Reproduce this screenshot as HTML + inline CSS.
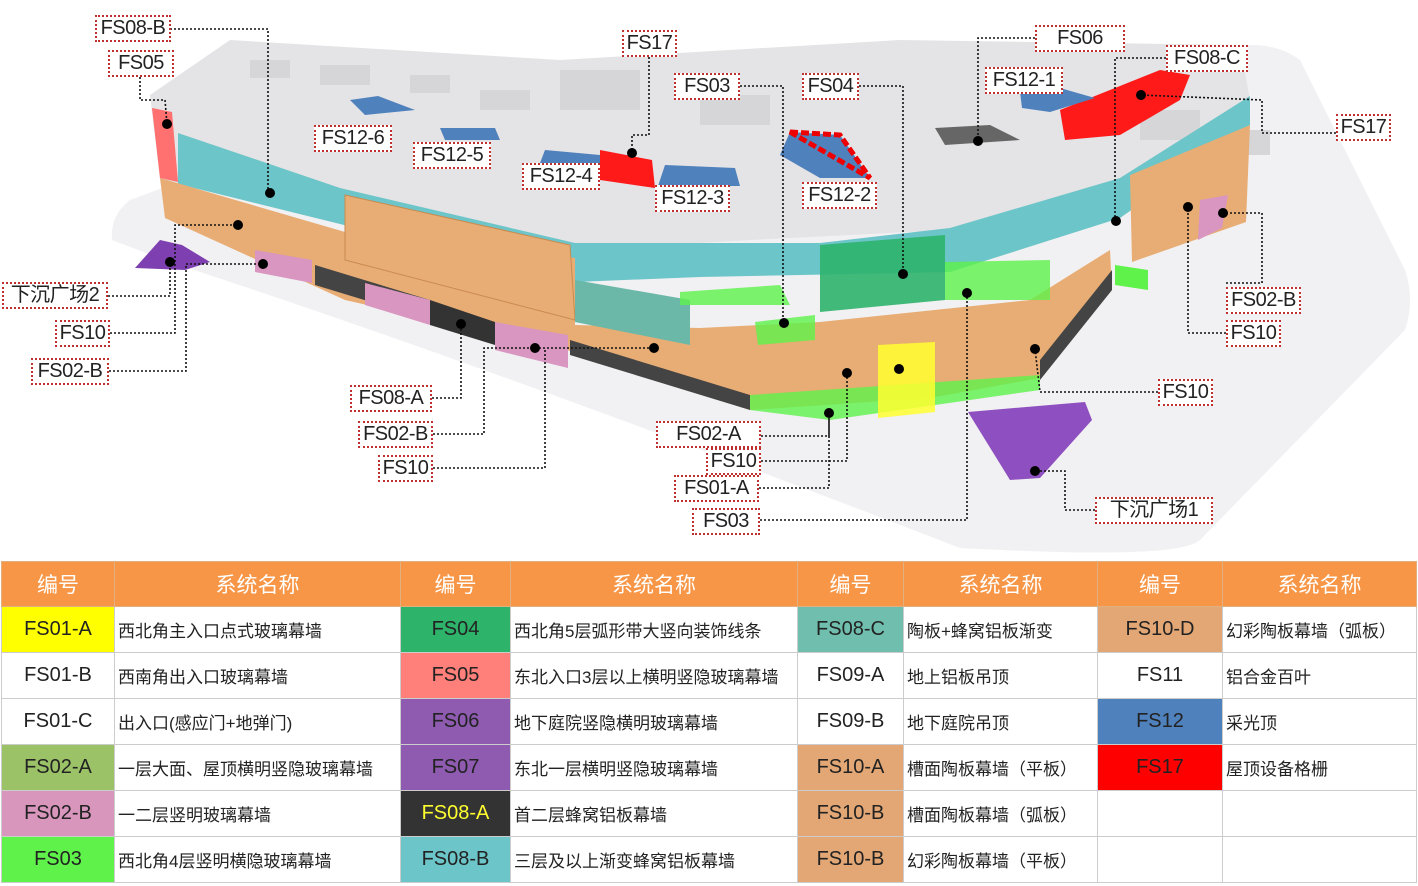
<!DOCTYPE html>
<html><head><meta charset="utf-8"><style>
body{margin:0;width:1418px;height:886px;background:#fff;overflow:hidden;font-family:"Liberation Sans","Noto Sans CJK SC",sans-serif;}
svg{position:absolute;left:0;top:0}
.lb{position:absolute;border:2px dotted #c0302e;background:#fff;color:#222;font-size:20px;line-height:23px;text-align:center;box-sizing:border-box;font-family:"Liberation Sans Narrow","Liberation Sans","Noto Sans CJK SC",sans-serif;letter-spacing:-0.5px}
table{position:absolute;left:1px;top:561px;border-collapse:collapse;width:1415px;table-layout:fixed}
td,th{border:1px solid #ccc;height:45px;padding:0;font-size:17px;color:#222;vertical-align:middle}
th{background:#f79646;color:#fff;font-weight:normal;font-size:21px;height:44px;border-color:#e0b080}
td.c{text-align:center;font-size:20px}
td.n{padding-left:3px;font-size:17px}
</style></head><body>
<svg width="1418" height="560" viewBox="0 0 1418 560">
<path d="M130,200 Q110,215 112,240 L170,262 Q500,370 960,548 Q1180,560 1200,540 L1405,330 Q1415,300 1405,270 L1300,60 Q1280,45 1250,45 L560,60 Q500,62 470,75 Z" fill="#f1f0f2"/>
<polygon points="150,95 230,40 560,60 900,40 1240,45 1250,100 1130,190 950,230 750,240 580,250 160,180" fill="#e4e3e5"/>
<g fill="#d6d5d7">
<rect x="250" y="60" width="40" height="18"/><rect x="320" y="65" width="50" height="20"/><rect x="410" y="75" width="40" height="18"/><rect x="480" y="90" width="50" height="20"/><rect x="560" y="70" width="80" height="40"/><rect x="700" y="95" width="70" height="30"/><rect x="1140" y="110" width="60" height="30"/><rect x="1230" y="130" width="40" height="25"/>
</g>
<polygon points="178,133 340,188 575,243 820,243 950,228 1120,178 1250,96 1248,128 1120,218 950,272 700,277 575,282 178,184" fill="#6cc5c8"/>
<polygon points="160,178 345,232 575,258 575,325 700,328 820,322 1030,300 1110,250 1112,290 1040,378 930,398 750,410 575,352 345,300 165,218" fill="#e8ad74"/>
<polygon points="345,195 570,245 575,320 345,260" fill="#e8ad74" stroke="#c98a50"/>
<polygon points="575,280 690,300 690,345 575,322" fill="#6cb8a8"/>
<polygon points="1130,175 1250,125 1246,222 1132,262" fill="#e8ad74"/>
<polygon points="1120,180 1250,98 1250,125 1130,175" fill="#6cc5c8"/>
<polygon points="820,245 945,235 945,300 820,312" fill="#2eb36b" opacity=".9"/>
<polygon points="945,262 1050,260 1050,300 945,300" fill="#5ef24a" opacity=".8"/>
<polygon points="680,292 780,285 790,305 680,305" fill="#5ef24a" opacity=".8"/>
<polygon points="755,322 815,315 815,340 758,345" fill="#5ef24a" opacity=".8"/>
<polygon points="750,395 1040,375 1040,390 830,420 750,410" fill="#5ef24a" opacity=".8"/>
<polygon points="878,345 935,342 935,412 878,418" fill="#ffff30" opacity=".85"/>
<polygon points="315,265 430,300 430,320 315,285" fill="#444"/>
<polygon points="430,300 495,322 495,345 430,325" fill="#333"/>
<polygon points="570,340 750,395 750,410 570,355" fill="#444"/>
<polygon points="1040,360 1112,270 1112,290 1040,380" fill="#444"/>
<polygon points="1115,265 1148,270 1148,290 1115,285" fill="#5ef24a"/>
<polygon points="255,250 312,260 312,283 255,272" fill="#d896c0"/>
<polygon points="365,283 430,300 430,325 365,305" fill="#d896c0"/>
<polygon points="495,322 568,335 568,368 495,350" fill="#d896c0"/>
<polygon points="1200,200 1228,195 1222,228 1198,240" fill="#d896c0"/>
<polygon points="152,108 172,112 178,182 160,178" fill="#ff7070"/>
<polygon points="135,268 160,240 182,245 210,262 185,270" fill="#7e3fb0"/>
<polygon points="968,412 1085,402 1092,420 1040,478 1010,480" fill="#8e4fc0"/>
<polygon points="1060,110 1160,70 1190,75 1180,100 1120,135 1065,140" fill="#ff1a1a"/>
<polygon points="600,150 652,160 655,188 600,180" fill="#ff1a1a"/>
<polygon points="790,132 840,135 870,178 820,178 780,155" fill="#4f81bd"/>
<polygon points="790,132 840,135 870,178" fill="none" stroke="#e00" stroke-width="5" stroke-dasharray="8,3"/>
<polygon points="350,100 378,96 415,110 365,115" fill="#4f81bd"/>
<polygon points="440,128 495,128 500,140 445,140" fill="#4f81bd"/>
<polygon points="545,150 600,155 600,165 540,163" fill="#4f81bd"/>
<polygon points="665,165 735,168 740,186 658,186" fill="#4f81bd"/>
<polygon points="1020,92 1060,88 1095,98 1050,112 1022,108" fill="#4f81bd"/>
<polygon points="935,128 990,125 1020,140 945,145" fill="#666"/>
<g fill="none" stroke="#111" stroke-width="1.6" stroke-dasharray="2,2">
<polyline points="170,29 268,29 268,193"/>
<polyline points="140,77 140,100 165,100 167,124"/>
<polyline points="649,57 649,135 632,135 632,153"/>
<polyline points="740,86 783,86 783,323"/>
<polyline points="859,86 903,86 903,274"/>
<polyline points="1035,38 978,38 978,141"/>
<polyline points="1166,58 1115,58 1115,221"/>
<polyline points="1336,133 1262,133 1262,100 1141,95"/>
<polyline points="108,296 170,296 170,262"/>
<polyline points="110,333 175,333 175,225 238,225"/>
<polyline points="109,371 186,371 186,264 263,264"/>
<polyline points="432,398 461,398 461,324"/>
<polyline points="433,434 484,434 484,348 654,348"/>
<polyline points="433,468 545,468 545,348"/>
<polyline points="761,436 829,436 829,413"/>
<polyline points="761,461 847,461 847,373"/>
<polyline points="759,488 829,488 829,420"/>
<polyline points="760,520 967,520 967,293"/>
<polyline points="1095,510 1065,510 1065,471 1035,471"/>
<polyline points="1226,283 1262,283 1262,213 1223,213"/>
<polyline points="1226,333 1188,333 1188,207"/>
<polyline points="1158,392 1040,392 1035,349"/>
</g>
<g fill="#000">
<circle cx="167" cy="124" r="5"/><circle cx="270" cy="193" r="5"/><circle cx="238" cy="225" r="5"/><circle cx="170" cy="262" r="5"/><circle cx="263" cy="264" r="5"/><circle cx="461" cy="324" r="5"/><circle cx="535" cy="348" r="5"/><circle cx="654" cy="348" r="5"/><circle cx="784" cy="323" r="5"/><circle cx="903" cy="274" r="5"/><circle cx="967" cy="293" r="5"/><circle cx="1035" cy="349" r="5"/><circle cx="847" cy="373" r="5"/><circle cx="899" cy="369" r="5"/><circle cx="829" cy="413" r="5"/><circle cx="1035" cy="471" r="5"/><circle cx="978" cy="141" r="5"/><circle cx="1116" cy="221" r="5"/><circle cx="1188" cy="207" r="5"/><circle cx="1223" cy="213" r="5"/><circle cx="1141" cy="95" r="5"/><circle cx="632" cy="153" r="5"/>
</g>
</svg>
<div class="lb" style="left:95px;top:15px;width:76px;height:27px">FS08-B</div>
<div class="lb" style="left:108px;top:50px;width:66px;height:27px">FS05</div>
<div class="lb" style="left:622px;top:30px;width:55px;height:27px">FS17</div>
<div class="lb" style="left:674px;top:73px;width:66px;height:27px">FS03</div>
<div class="lb" style="left:802px;top:73px;width:57px;height:27px">FS04</div>
<div class="lb" style="left:1035px;top:25px;width:90px;height:27px">FS06</div>
<div class="lb" style="left:1166px;top:45px;width:82px;height:27px">FS08-C</div>
<div class="lb" style="left:985px;top:67px;width:78px;height:27px">FS12-1</div>
<div class="lb" style="left:1336px;top:114px;width:55px;height:27px">FS17</div>
<div class="lb" style="left:314px;top:125px;width:78px;height:27px">FS12-6</div>
<div class="lb" style="left:413px;top:142px;width:78px;height:27px">FS12-5</div>
<div class="lb" style="left:522px;top:163px;width:78px;height:27px">FS12-4</div>
<div class="lb" style="left:655px;top:185px;width:75px;height:27px">FS12-3</div>
<div class="lb" style="left:802px;top:182px;width:75px;height:27px">FS12-2</div>
<div class="lb" style="left:2px;top:282px;width:106px;height:27px">下沉广场2</div>
<div class="lb" style="left:55px;top:320px;width:55px;height:27px">FS10</div>
<div class="lb" style="left:31px;top:358px;width:78px;height:27px">FS02-B</div>
<div class="lb" style="left:350px;top:385px;width:82px;height:27px">FS08-A</div>
<div class="lb" style="left:358px;top:421px;width:75px;height:27px">FS02-B</div>
<div class="lb" style="left:378px;top:455px;width:55px;height:27px">FS10</div>
<div class="lb" style="left:656px;top:421px;width:105px;height:27px">FS02-A</div>
<div class="lb" style="left:706px;top:448px;width:55px;height:27px">FS10</div>
<div class="lb" style="left:674px;top:475px;width:85px;height:27px">FS01-A</div>
<div class="lb" style="left:692px;top:508px;width:68px;height:27px">FS03</div>
<div class="lb" style="left:1095px;top:497px;width:118px;height:27px">下沉广场1</div>
<div class="lb" style="left:1226px;top:287px;width:75px;height:27px">FS02-B</div>
<div class="lb" style="left:1226px;top:320px;width:55px;height:27px">FS10</div>
<div class="lb" style="left:1158px;top:379px;width:55px;height:27px">FS10</div>
<table>
<colgroup><col style="width:113px"><col style="width:286px"><col style="width:110px"><col style="width:287px"><col style="width:106px"><col style="width:194px"><col style="width:125px"><col style="width:194px"></colgroup>
<tr><th>编号</th><th>系统名称</th><th>编号</th><th>系统名称</th><th>编号</th><th>系统名称</th><th>编号</th><th>系统名称</th></tr>
<tr><td class="c" style="background:#ffff00">FS01-A</td><td class="n">西北角主入口点式玻璃幕墙</td><td class="c" style="background:#2eb36b">FS04</td><td class="n">西北角5层弧形带大竖向装饰线条</td><td class="c" style="background:#70bfae">FS08-C</td><td class="n">陶板+蜂窝铝板渐变</td><td class="c" style="background:#e2a775">FS10-D</td><td class="n">幻彩陶板幕墙（弧板）</td></tr>
<tr><td class="c">FS01-B</td><td class="n">西南角出入口玻璃幕墙</td><td class="c" style="background:#ff7f7a">FS05</td><td class="n">东北入口3层以上横明竖隐玻璃幕墙</td><td class="c">FS09-A</td><td class="n">地上铝板吊顶</td><td class="c">FS11</td><td class="n">铝合金百叶</td></tr>
<tr><td class="c">FS01-C</td><td class="n">出入口(感应门+地弹门)</td><td class="c" style="background:#8e5bb0">FS06</td><td class="n">地下庭院竖隐横明玻璃幕墙</td><td class="c">FS09-B</td><td class="n">地下庭院吊顶</td><td class="c" style="background:#4f81bd">FS12</td><td class="n">采光顶</td></tr>
<tr><td class="c" style="background:#9bc267">FS02-A</td><td class="n">一层大面、屋顶横明竖隐玻璃幕墙</td><td class="c" style="background:#8e5bb0">FS07</td><td class="n">东北一层横明竖隐玻璃幕墙</td><td class="c" style="background:#e2a775">FS10-A</td><td class="n">槽面陶板幕墙（平板）</td><td class="c" style="background:#ff0000">FS17</td><td class="n">屋顶设备格栅</td></tr>
<tr><td class="c" style="background:#d896bd">FS02-B</td><td class="n">一二层竖明玻璃幕墙</td><td class="c" style="background:#333;color:#ffff30">FS08-A</td><td class="n">首二层蜂窝铝板幕墙</td><td class="c" style="background:#e2a775">FS10-B</td><td class="n">槽面陶板幕墙（弧板）</td><td></td><td></td></tr>
<tr><td class="c" style="background:#5ef24a">FS03</td><td class="n">西北角4层竖明横隐玻璃幕墙</td><td class="c" style="background:#6cc5c8">FS08-B</td><td class="n">三层及以上渐变蜂窝铝板幕墙</td><td class="c" style="background:#e2a775">FS10-B</td><td class="n">幻彩陶板幕墙（平板）</td><td></td><td></td></tr>
</table>
</body></html>
